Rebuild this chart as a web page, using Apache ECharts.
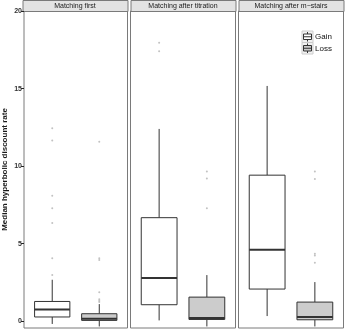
<!DOCTYPE html>
<html>
<head>
<meta charset="utf-8">
<script src="https://cdn.jsdelivr.net/npm/echarts@6/dist/echarts.min.js"></script>
<style>
  html, body { margin: 0; padding: 0; background: #fff; }
  #chart { width: 347px; height: 329px; }
</style>
</head>
<body>
<div id="chart"></div>
<script>
// Facet titles (one panel per matching procedure)
const panels = ['Matching first', 'Matching after titration', 'Matching after m\u2212stairs'];
const groups = ['Gain', 'Loss'];

// Box statistics per panel: [lower whisker, Q1, median, Q3, upper whisker]
const gainStats = [
  [-0.17, 0.28, 0.77, 1.28, 2.68],
  [0.06, 1.07, 2.80, 6.68, 12.40],
  [0.34, 2.08, 4.62, 9.42, 15.17]
];
const lossStats = [
  [-0.33, 0.06, 0.16, 0.49, 1.11],
  [-0.33, 0.12, 0.21, 1.56, 2.98],
  [-0.33, 0.10, 0.28, 1.24, 2.53]
];

// Outlying values per panel
const gainOutliers = [
  [12.45, 11.65, 8.09, 7.29, 6.33, 4.07, 2.98],
  [17.96, 17.40],
  []
];
const lossOutliers = [
  [11.58, 4.07, 3.96, 1.88, 1.42, 1.33, 1.24],
  [9.65, 9.20, 7.29],
  [9.65, 9.18, 4.35, 4.24, 3.77]
];

const yTicks = [0, 5, 10, 15, 20];
const fills = ['#ffffff', '#cccccc'];

const panelLeft = [22.5, 130.5, 238.5];
const panelWidth = 105;
const plotTop = 11;
const plotHeight = 317;

function renderBox(params, api) {
  const x = api.value(0);
  const lo = api.value(1), q1 = api.value(2), med = api.value(3), q3 = api.value(4), hi = api.value(5);
  const fill = fills[api.value(6)];
  const half = api.size([0.75, 0])[0] / 2;
  const pLo = api.coord([x, lo]);
  const pQ1 = api.coord([x, q1]);
  const pMed = api.coord([x, med]);
  const pQ3 = api.coord([x, q3]);
  const pHi = api.coord([x, hi]);
  const stroke = { stroke: '#333333', lineWidth: 1 };
  return {
    type: 'group',
    children: [
      { type: 'line', shape: { x1: pLo[0], y1: pLo[1], x2: pQ1[0], y2: pQ1[1] }, style: stroke },
      { type: 'line', shape: { x1: pQ3[0], y1: pQ3[1], x2: pHi[0], y2: pHi[1] }, style: stroke },
      { type: 'rect', shape: { x: pQ3[0] - half, y: pQ3[1], width: half * 2, height: pQ1[1] - pQ3[1] },
        style: { fill: fill, stroke: '#333333', lineWidth: 1 } },
      { type: 'line', shape: { x1: pMed[0] - half, y1: pMed[1], x2: pMed[0] + half, y2: pMed[1] },
        style: { stroke: '#333333', lineWidth: 2 } }
    ]
  };
}

const grid = [], xAxis = [], yAxis = [], series = [], graphic = [];

panels.forEach((name, i) => {
  grid.push({
    left: panelLeft[i], top: plotTop, width: panelWidth, height: plotHeight,
    show: true, borderColor: '#7a7a7a', borderWidth: 1, backgroundColor: '#fff'
  });
  xAxis.push({
    gridIndex: i, type: 'value', min: 0.4, max: 2.6,
    axisLine: { show: false }, axisTick: { show: false }, axisLabel: { show: false }, splitLine: { show: false }
  });
  yAxis.push({
    gridIndex: i, type: 'value', min: -0.43, max: 20,
    name: i === 0 ? 'Median hyperbolic discount rate' : '',
    nameLocation: 'middle', nameRotate: 90, nameGap: 15,
    nameTextStyle: { fontSize: 8, fontWeight: 'bold', color: '#1a1a1a', fontFamily: 'Liberation Sans' },
    axisLine: { show: false },
    axisTick: { show: i === 0, customValues: yTicks, length: 3, lineStyle: { color: '#222' } },
    axisLabel: { show: i === 0, customValues: yTicks, fontSize: 7, fontWeight: 'bold', color: '#333', margin: 2,
                 fontFamily: 'Liberation Sans' },
    splitLine: { show: false }
  });

  const boxes = [gainStats[i], lossStats[i]].map((s, g) => [g + 1].concat(s, [g]));
  series.push({
    type: 'custom', xAxisIndex: i, yAxisIndex: i, clip: false,
    renderItem: renderBox, data: boxes, z: 2
  });

  const pts = [];
  gainOutliers[i].forEach(v => pts.push([1, v]));
  lossOutliers[i].forEach(v => pts.push([2, v]));
  series.push({
    type: 'scatter', xAxisIndex: i, yAxisIndex: i, symbol: 'circle', symbolSize: 2,
    itemStyle: { color: '#b3b3b3' }, data: pts, z: 3, silent: true
  });

  // Facet strip header
  graphic.push({
    type: 'rect', left: panelLeft[i], top: 0,
    shape: { width: panelWidth, height: plotTop },
    style: { fill: '#e3e3e3', stroke: '#7a7a7a', lineWidth: 1 }
  });
  graphic.push({
    type: 'text', x: panelLeft[i] + panelWidth / 2, y: plotTop / 2 + 0.5,
    style: { text: name, fill: '#1a1a1a', font: '7px "Liberation Sans"', align: 'center', verticalAlign: 'middle' }
  });
});

// Legend keys with box glyphs
groups.forEach((g, k) => {
  const ky = 31 + k * 11.5;
  const kx = 302;
  graphic.push({ type: 'rect', shape: { x: kx, y: ky, width: 11, height: 11.5 },
                 style: { fill: '#f2f2f2', stroke: '#cccccc', lineWidth: 1 } });
  graphic.push({ type: 'line', shape: { x1: kx + 5.5, y1: ky + 1, x2: kx + 5.5, y2: ky + 10.5 },
                 style: { stroke: '#333', lineWidth: 1 } });
  graphic.push({ type: 'rect', shape: { x: kx + 1.5, y: ky + 3, width: 8, height: 5.5 },
                 style: { fill: fills[k], stroke: '#333', lineWidth: 1 } });
  graphic.push({ type: 'line', shape: { x1: kx + 1.5, y1: ky + 5.75, x2: kx + 9.5, y2: ky + 5.75 },
                 style: { stroke: '#333', lineWidth: 1 } });
  graphic.push({ type: 'text', x: kx + 13, y: ky + 6,
                 style: { text: g, fill: '#111', font: '8px "Liberation Sans"', verticalAlign: 'middle' } });
});

const chart = echarts.init(document.getElementById('chart'), null, { renderer: 'canvas' });
chart.setOption({
  animation: false,
  grid, xAxis, yAxis, series, graphic
});
</script>
</body>
</html>
